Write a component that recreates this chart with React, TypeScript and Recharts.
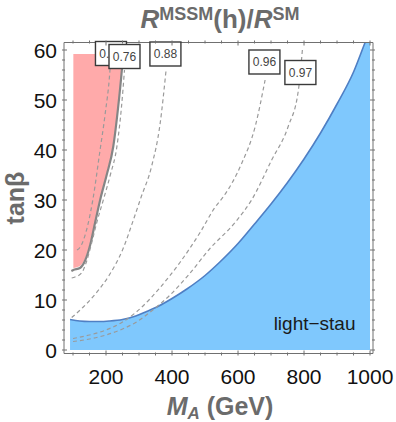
import { ComposedChart, Area, Line, XAxis, YAxis, ReferenceDot } from 'recharts';

// boundary of the light-stau region (M_A in GeV, tan beta)
const blueEdge: [number, number][] = [
  [91, 6.1], [120, 5.8], [150, 5.7], [180, 5.7], [210, 5.8], [250, 6.1], [290, 6.8], [323, 7.7],
  [360, 8.8], [400, 10.3], [445, 12.2], [500, 14.9], [545, 17.6], [600, 21.3], [650, 25.2],
  [700, 29.2], [750, 33.5], [800, 38.2], [850, 43.4], [900, 49.2], [950, 55.6], [985, 61.5], [1000, 64],
];
// solid grey boundary of the excluded (pink) region
const pinkEdge: [number, number][] = [
  [95, 15.8], [101, 16], [121, 16.4], [136, 17.8], [152, 21], [167, 25.5], [184, 30.5],
  [202, 35], [222, 40.7], [237, 48.7], [248, 56], [252, 59.2],
];
const pinkTop = 59.2;

// dashed contours of R^MSSM(h)/R^SM
const c064: [number, number][] = [[112, 20], [121, 20.5], [141, 24], [160, 30], [182, 40], [197, 47], [212, 56], [215, 59]];
const c076: [number, number][] = [
  [96, 14.4], [106, 14.6], [126, 15.4], [141, 17.7], [156, 21.3], [172, 25.5], [194, 30.5],
  [213, 35], [233, 40.7], [247, 48.7], [256, 56],
];
const c088: [number, number][] = [
  [96, 6.5], [125, 8.2], [165, 11], [210, 15], [250, 20], [288, 27], [306, 30.5], [338, 36.7], [364, 45.3], [382, 56],
];
const c096: [number, number][] = [
  [100, 2.3], [150, 3], [200, 4], [250, 5.6], [290, 7.5], [333, 10.2], [364, 12.5], [424, 17.5],
  [485, 23.5], [530, 28.5], [556, 30.7], [611, 37.3], [652, 44.7], [682, 54],
];
const c097: [number, number][] = [
  [100, 1.7], [150, 2.2], [200, 3], [250, 4.2], [290, 5.5], [334, 7.6], [394, 11], [450, 15],
  [515, 20.3], [591, 25.5], [641, 30], [702, 38], [752, 44.7], [783, 52], [795, 60],
];
const contourLabels = [
  { text: '0.64', x: 215, y: 59.3 },
  { text: '0.76', x: 256, y: 58.7 },
  { text: '0.88', x: 380, y: 59.2 },
  { text: '0.96', x: 680, y: 57.6 },
  { text: '0.97', x: 789, y: 55.5 },
];

const xTicks = [100, 150, 200, 250, 300, 350, 400, 450, 500, 550, 600, 650, 700, 750, 800, 850, 900, 950, 1000];
const yTicks = [0, 2, 4, 6, 8, 10, 12, 14, 16, 18, 20, 22, 24, 26, 28, 30, 32, 34, 36, 38, 40, 42, 44, 46, 48, 50, 52, 54, 56, 58, 60];
const xDomain: [number, number] = [72.7, 1009];
const yDomain: [number, number] = [-0.7, 61.5];

const FONT = '"Liberation Sans", Arial, sans-serif';
const FRAME = '#707070';
const AXIS_TEXT = '#6b6b6b';
const DASH = '#9a9a9a';

const rows = (pts: [number, number][]) => pts.map(([x, y]) => ({ x, y }));
const pinkRows = pinkEdge.filter(([x]) => x >= 101).map(([x, y]) => ({ x, r: [Math.min(y + 0.4, pinkTop), pinkTop] }));

const isMajorX = (v: number) => v % 200 === 0;
const isMajorY = (v: number) => v % 10 === 0;

function BottomTick({ x, y, payload }: any) {
  const major = isMajorX(payload.value);
  return (
    <g>
      <line x1={x} x2={x} y1={y} y2={y - (major ? 5 : 3)} stroke={FRAME} />
      {major ? <text x={x} y={y + 28} textAnchor="middle" fontSize={21} fontFamily={FONT} fill="#111">{payload.value}</text> : null}
    </g>
  );
}
function TopTick({ x, y, payload }: any) {
  const major = isMajorX(payload.value);
  return <line x1={x} x2={x} y1={y} y2={y + (major ? 5 : 3)} stroke={FRAME} />;
}
function LeftTick({ x, y, payload }: any) {
  const major = isMajorY(payload.value);
  return (
    <g>
      <line x1={x} x2={x + (major ? 5 : 3)} y1={y} y2={y} stroke={FRAME} />
      {major ? <text x={x - 5} y={y} dy="0.36em" textAnchor="end" fontSize={21} fontFamily={FONT} fill="#111">{payload.value}</text> : null}
    </g>
  );
}
function RightTick({ x, y, payload }: any) {
  const major = isMajorY(payload.value);
  return <line x1={x} x2={x - (major ? 5 : 3)} y1={y} y2={y} stroke={FRAME} />;
}

function LabelBox({ cx, cy, text }: any) {
  return (
    <g>
      <rect x={cx - 15.5} y={cy - 12} width={31} height={24} fill="#fff" stroke="#3a3a3a" strokeWidth={1.4} />
      <text x={cx} y={cy} dy="0.36em" textAnchor="middle" fontSize={12} fontFamily={FONT} fill="#444">{text}</text>
    </g>
  );
}

export default function App() {
  const contours = [c064, c076, c088, c096, c097];
  return (
    <div style={{ position: 'absolute', left: 0, top: 0, width: 396, height: 422, background: '#fff', fontFamily: FONT }}>
      <ComposedChart width={396} height={422} margin={{ top: 41.5, right: 22, bottom: 38.5, left: 14 }}>
        <XAxis type="number" dataKey="x" domain={xDomain} allowDataOverflow ticks={xTicks} interval={0}
          tickSize={0} tickLine={false} tick={<BottomTick />} axisLine={{ stroke: FRAME }} height={30} />
        <XAxis xAxisId="top" orientation="top" type="number" dataKey="x" domain={xDomain} allowDataOverflow ticks={xTicks} interval={0}
          tickSize={0} tickLine={false} tick={<TopTick />} axisLine={{ stroke: FRAME }} height={1} />
        <YAxis type="number" domain={yDomain} allowDataOverflow ticks={yTicks} interval={0}
          tickSize={0} tickLine={false} tick={<LeftTick />} axisLine={{ stroke: FRAME }} width={50} />
        <YAxis yAxisId="right" orientation="right" type="number" domain={yDomain} allowDataOverflow ticks={yTicks} interval={0}
          tickSize={0} tickLine={false} tick={<RightTick />} axisLine={{ stroke: FRAME }} width={1} />

        <Area data={rows(blueEdge)} dataKey="y" type="monotone" baseValue={0} fill="#7fc8fd" fillOpacity={1}
          stroke="#4f7fc4" strokeWidth={1.6} isAnimationActive={false} />
        <Area data={pinkRows} dataKey="r" type="monotone" fill="#ffaaaa" fillOpacity={1} stroke="none" isAnimationActive={false} />
        <Line data={rows(pinkEdge)} dataKey="y" type="monotone" stroke="#858585" strokeWidth={2.2} dot={false} isAnimationActive={false} />
        {contours.map((c, i) => (
          <Line key={i} data={rows(c)} dataKey="y" type="monotone" stroke={DASH} strokeWidth={1.2} strokeDasharray="4 3"
            dot={false} isAnimationActive={false} />
        ))}
        {/* invisible series so the frame axes on top/right are drawn */}
        <Line xAxisId="top" yAxisId="right" data={rows(blueEdge)} dataKey="y" stroke="none" dot={false}
          isAnimationActive={false} legendType="none" />
        {contourLabels.map((l) => (
          <ReferenceDot key={l.text} x={l.x} y={l.y} r={0} ifOverflow="visible"
            shape={(p: any) => <LabelBox cx={p.cx} cy={p.cy} text={l.text} />} />
        ))}
        <ReferenceDot x={832} y={5.4} r={0} ifOverflow="visible"
          shape={(p: any) => <text x={p.cx} y={p.cy} dy="0.36em" textAnchor="middle" fontSize={19} fontFamily={FONT} fill="#1a1a1a">light−stau</text>} />
      </ComposedChart>

      <div style={{ position: 'absolute', left: 220, top: 6, transform: 'translateX(-50%)', whiteSpace: 'nowrap', lineHeight: 1,
        fontSize: 26, fontWeight: 'bold', color: AXIS_TEXT }}>
        <i>R</i><span style={{ fontSize: 18, position: 'relative', top: -8 }}>MSSM</span>(h)/<i>R</i><span style={{ fontSize: 18, position: 'relative', top: -8 }}>SM</span>
      </div>
      <div style={{ position: 'absolute', left: 220, top: 394, transform: 'translateX(-50%)', whiteSpace: 'nowrap', lineHeight: '25px',
        paddingBottom: 4, fontSize: 25, fontWeight: 'bold', color: AXIS_TEXT }}>
        <i>M</i><i style={{ fontSize: 17, verticalAlign: -4 }}>A</i> (GeV)
      </div>
      <div style={{ position: 'absolute', left: 15, top: 198, transform: 'translate(-50%, -50%) rotate(-90deg)', whiteSpace: 'nowrap',
        lineHeight: 1, fontSize: 25, fontWeight: 'bold', color: AXIS_TEXT }}>
        tanβ
      </div>
    </div>
  );
}
